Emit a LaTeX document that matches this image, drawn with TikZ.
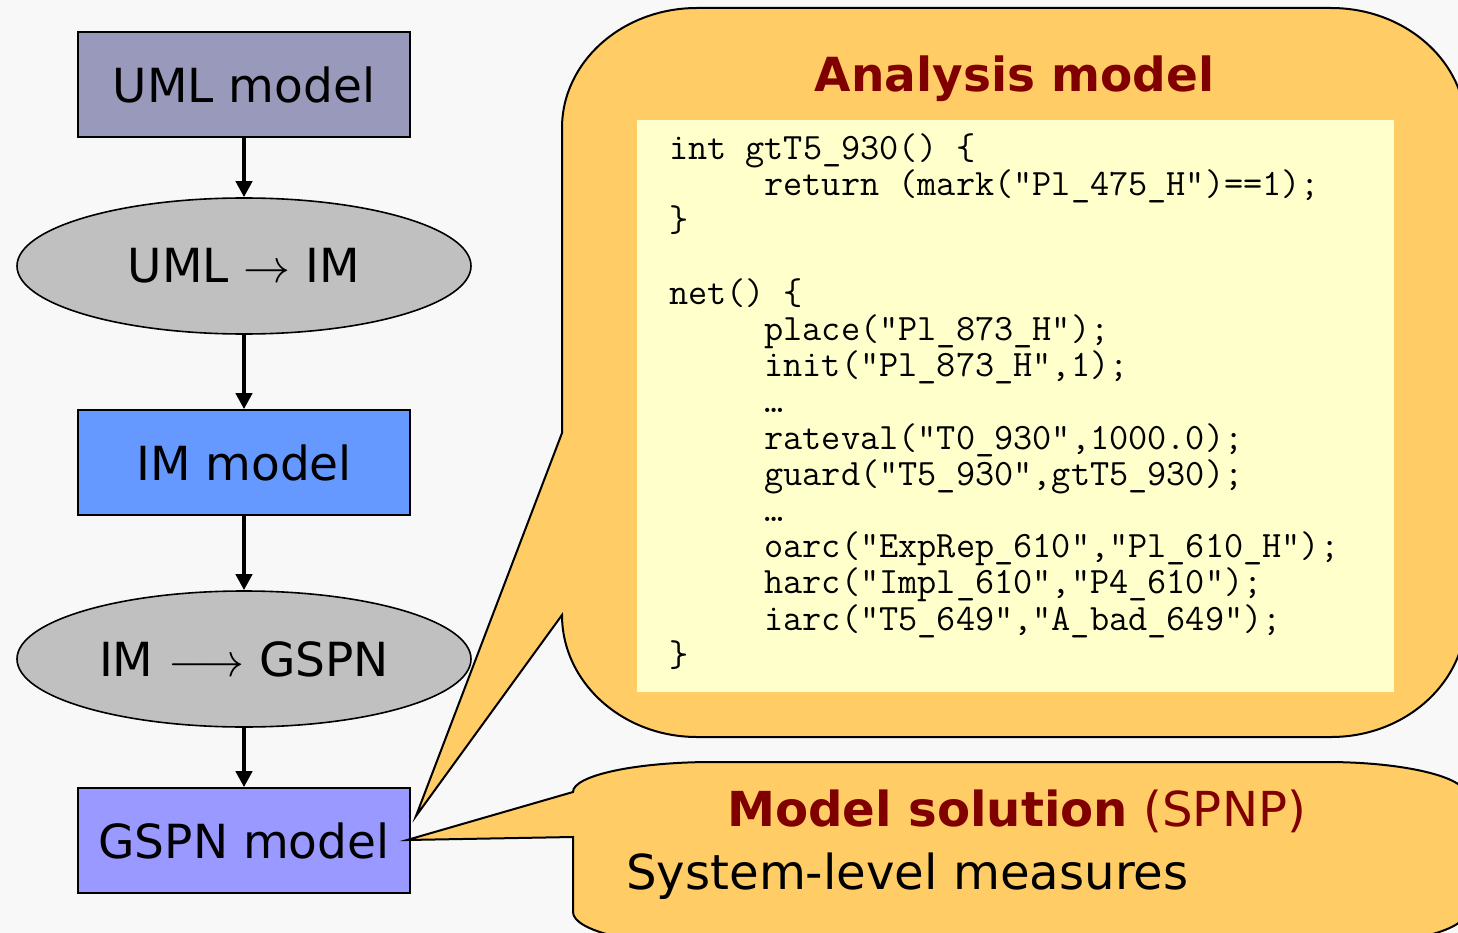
\documentclass[tikz,border=0pt]{standalone}
\usepackage{fontspec}
\setmainfont{DejaVu Sans}
\usetikzlibrary{arrows.meta,shapes.geometric}

\definecolor{pagebg}{HTML}{F8F8F8}
\definecolor{umlfill}{HTML}{9999BB}
\definecolor{imfill}{HTML}{6699FF}
\definecolor{gspnfill}{HTML}{9999FF}
\definecolor{transfill}{HTML}{C0C0C0}
\definecolor{calloutfill}{HTML}{FFCC66}
\definecolor{codefill}{HTML}{FFFFCC}
\definecolor{headred}{HTML}{800000}

\newcommand\lblfont{\fontsize{47}{56}\selectfont}
\newcommand\solfont{\fontsize{48.2}{56}\selectfont}
\newcommand\codesize{\fontsize{37.2}{36.2}\selectfont\ttfamily}
% math arrows set at 10pt and scaled up to the label size
\newcommand\bigarrow[1]{{\fontsize{10}{12}\selectfont\scalebox{4.7}{$#1$}}}

\tikzset{
  modelbox/.style={draw=black, line width=1.6pt, rectangle, inner sep=0pt,
    minimum width=332pt, minimum height=105pt, font=\lblfont},
  trans/.style={draw=black, line width=1.6pt, ellipse, fill=transfill, inner sep=0pt,
    minimum width=454pt, minimum height=136pt, font=\lblfont},
  flow/.style={line width=4.4pt, -{Triangle[length=16pt,width=16pt]}},
  callout/.style={fill=calloutfill, draw=black, line width=2pt, line join=miter},
  codeline/.style={anchor=base west, inner sep=0pt, outer sep=0pt, font=\codesize},
  heading/.style={anchor=base, inner sep=0pt, text=headred, font=\lblfont\bfseries},
}

\begin{document}
\begin{tikzpicture}[x=1pt, y=-1pt]
  % page
  \fill[pagebg] (0,0) rectangle (1458,933);
  \useasboundingbox (0,0) rectangle (1458,933);

  % transformation chain
  \node[modelbox, fill=umlfill]  (uml)  at (244,84.5)  {UML model};
  \node[trans]                   (t1)   at (244,266)   {UML \bigarrow{\rightarrow} IM};
  \node[modelbox, fill=imfill]   (im)   at (244,462.5) {IM model};
  \node[trans]                   (t2)   at (244,659)   {IM \bigarrow{\longrightarrow} GSPN};
  \node[modelbox, fill=gspnfill] (gspn) at (244,840.5) {GSPN model};

  \draw[flow] (uml.south) -- (t1.north);
  \draw[flow] (t1.south)  -- (im.north);
  \draw[flow] (im.south)  -- (t2.north);
  \draw[flow] (t2.south)  -- (gspn.north);

  % wedge tips pointing at the GSPN model
  \coordinate (tipA) at (416,816);
  \coordinate (tipB) at (407,840);

  % analysis model callout
  \draw[callout] (562,615)
      arc[start angle=180, end angle=90, x radius=135, y radius=122]
      -- (1331,737)
      arc[start angle=90, end angle=0, x radius=135, y radius=122]
      -- (1466,128)
      arc[start angle=0, end angle=-90, x radius=135, y radius=120]
      -- (697,8)
      arc[start angle=-90, end angle=-180, x radius=135, y radius=120]
      -- (562,433) -- (tipA) -- cycle;

  % model solution callout
  \draw[callout] (573,837)
      -- (573,912)
      arc[start angle=180, end angle=90, x radius=140, y radius=34]
      -- (1326,946)
      arc[start angle=90, end angle=0, x radius=140, y radius=34]
      -- (1466,795)
      arc[start angle=0, end angle=-90, x radius=140, y radius=33]
      -- (713,762)
      arc[start angle=-90, end angle=-180, x radius=140, y radius=30]
      -- (tipB) -- cycle;

  % analysis model content
  \node[heading] (amt) at (1014.5,92) {Analysis model};
  \node[fill=codefill, inner sep=0pt, minimum width=757pt, minimum height=572pt,
        anchor=north west] (codebg) at (637,120) {};

  \node[codeline] (c0)  at (669,159.5) {int gtT5\_930() \{};
  \node[codeline] (c1)  at (764.5,195.7) {return (mark("Pl\_475\_H")==1);};
  \node[codeline] (c2)  at (669,231.9) {\}};
  \node[codeline] (c4)  at (669,304.3) {net() \{};
  \node[codeline] (c5)  at (764.5,340.5) {place("Pl\_873\_H");};
  \node[codeline] (c6)  at (764.5,376.7) {init("Pl\_873\_H",1);};
  \node[codeline] (c7)  at (764.5,412.9) {\textellipsis};
  \node[codeline] (c8)  at (764.5,449.1) {rateval("T0\_930",1000.0);};
  \node[codeline] (c9)  at (764.5,485.3) {guard("T5\_930",gtT5\_930);};
  \node[codeline] (c10) at (764.5,521.5) {\textellipsis};
  \node[codeline] (c11) at (764.5,557.7) {oarc("ExpRep\_610","Pl\_610\_H");};
  \node[codeline] (c12) at (764.5,593.9) {harc("Impl\_610","P4\_610");};
  \node[codeline] (c13) at (764.5,630.1) {iarc("T5\_649","A\_bad\_649");};
  \node[codeline] (c14) at (669,666.3) {\}};

  % model solution content
  \node[anchor=base, inner sep=0pt, text=headred, font=\solfont] (mst) at (1016.5,826)
       {\textbf{Model solution} (SPNP)};
  \node[anchor=base west, inner sep=0pt, font=\solfont] (slm) at (626,889)
       {System-level measures};
\end{tikzpicture}
\end{document}
